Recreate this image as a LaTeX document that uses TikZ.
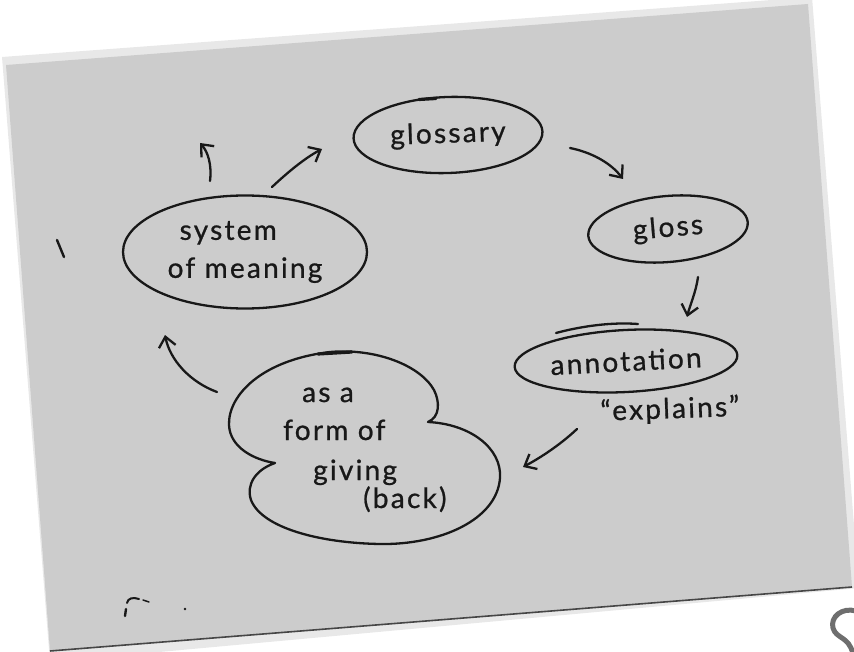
\documentclass[tikz,border=0pt]{standalone}
\usepackage{fontspec}
\setmainfont{Lato}[FakeBold=0.8, LetterSpace=8]
\usetikzlibrary{arrows.meta,shapes.geometric}
\definecolor{card}{RGB}{204,204,204}
\definecolor{cardhi}{RGB}{232,232,232}
\definecolor{cardlo}{RGB}{70,70,70}
\definecolor{ink}{RGB}{24,24,24}
\definecolor{smudge}{RGB}{110,110,110}
\tikzset{
  inkline/.style={draw=ink, line width=2.3pt, line cap=round, line join=round},
  bubble/.style={ellipse, inkline, inner sep=0pt, text=ink, font=\fontsize{28}{38}\selectfont},
  handtext/.style={inner sep=0pt, text=ink, font=\fontsize{28}{34}\selectfont},
  arr/.style={inkline, -{Straight Barb[length=10pt,width=17pt,line width=2.3pt]}},
  strokemark/.style={draw=ink, line width=2.4pt, line cap=round}
}
\begin{document}
\begin{tikzpicture}[x=1pt,y=-1pt]
\useasboundingbox (0,0) rectangle (854,652);
\clip (0,0) rectangle (854,652);
% card
\fill[cardhi] (2,57) -- (812,-3) -- (859,588) -- (50,662) -- cycle;
\fill[card] (6,65) -- (808,4) -- (852,587) -- (50,651) -- cycle;
\draw[cardlo, line width=1.6pt] (50,651) -- (852,587);
% smudge at bottom right, outside the card
\draw[smudge, line width=5pt, line cap=round] (856,611) .. controls (842,607) and (830,617) .. (833,628) .. controls (836,639) and (849,636) .. (853,654);
% stray marks on the card
\draw[strokemark] (57,240) -- (64,257);
\draw[strokemark, line width=2pt] (127,603) .. controls (128,598) and (133,597) .. (139,599);
\draw[strokemark, line width=1.5pt] (143,600) -- (149,602);
\draw[strokemark] (126,609) -- (125,616);
\fill[ink] (185,609) circle (1.3pt);

% nodes
\node[bubble, minimum width=189pt, minimum height=76pt, rotate=2] (glossary) at (448,135) {\raisebox{-4pt}{glossary}};
\draw[inkline, line width=3.2pt] (419,99.5) -- (436,98.5);
\node[bubble, minimum width=160pt, minimum height=66pt, rotate=5] (gloss) at (668,229) {gloss};
\node[bubble, minimum width=223pt, minimum height=62pt, rotate=3] (annotation) at (626,361) {annotation};
\draw[inkline] (556,333) .. controls (582,326) and (612,322) .. (638,324);
\node[handtext, rotate=2] (explains) at (670,410) {“explains”};
\node[bubble, minimum width=244pt, minimum height=113pt, align=left] (system) at (245,252) {\hspace{12pt}system\\of meaning};

% cloud: as a form of giving (back)
\draw[inkline] (275,463) .. controls (255,460) and (230,448) .. (229,425)
  .. controls (228,395) and (262,360) .. (330,352)
  .. controls (375,348) and (420,365) .. (434,390)
  .. controls (440,402) and (440,417) .. (428,422)
  .. controls (470,424) and (502,448) .. (500,478)
  .. controls (497,520) and (440,545) .. (380,544)
  .. controls (320,543) and (262,528) .. (251,500)
  .. controls (246,485) and (255,470) .. (275,463) -- cycle;
\draw[inkline, line width=3.2pt] (318,354) -- (352,352);
\node[handtext, anchor=base west] (giv1) at (302,402) {as a};
\node[handtext, anchor=base west] (giv2) at (283,440) {form of};
\node[handtext, anchor=base west] (giv3) at (313,480) {giving};
\node[handtext, anchor=base west] (giv4) at (363,508) {(back)};

% connector ends
\coordinate (upS) at (210,181);   \coordinate (upE) at (200,143);
\coordinate (toGlS) at (272,187); \coordinate (toGlE) at (322,149);
\coordinate (gl2gS) at (570,148); \coordinate (gl2gE) at (623,179);
\coordinate (g2aS) at (698,277);  \coordinate (g2aE) at (687,317);
\coordinate (a2cS) at (577,429);  \coordinate (a2cE) at (523,467);
\coordinate (c2sS) at (217,392);  \coordinate (c2sE) at (165,335);

% connectors
\draw[arr] (upS) .. controls (212,165) and (208,152) .. (upE);
\draw[arr] (toGlS) .. controls (288,172) and (305,158) .. (toGlE);
\draw[arr] (gl2gS) .. controls (590,152) and (610,162) .. (gl2gE);
\draw[arr] (g2aS) .. controls (696,292) and (690,305) .. (g2aE);
\draw[arr] (a2cS) .. controls (560,445) and (540,458) .. (a2cE);
\draw[arr] (c2sS) .. controls (190,382) and (170,360) .. (c2sE);
\end{tikzpicture}
\end{document}
